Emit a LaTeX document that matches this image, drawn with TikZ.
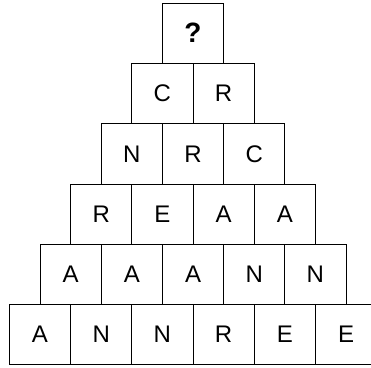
\documentclass[tikz,border=0pt]{standalone}
\usepackage{fontspec}
\setmainfont{Liberation Sans}

\begin{document}
\begin{tikzpicture}[x=1pt, y=1pt,
		cell/.style={draw, line width=0.9pt, minimum width=61.2pt, minimum height=60.3pt, inner sep=0pt, font=\fontsize{24}{28}\selectfont}]
	% Bildbereich
	\useasboundingbox (0,0) rectangle (371,-367);
	% Spitze
	\node[cell, font=\fontsize{28}{32}\selectfont\bfseries] (c-1-1) at (193,-33.2) {?};
	% Reihen darunter
	\foreach \r/\word in {2/{C,R},3/{N,R,C},4/{R,E,A,A},5/{A,A,A,N,N},6/{A,N,N,R,E,E}}
		\foreach \l [count=\i] in \word
			\node[cell] (c-\r-\i) at ({193+(\i-(\r+1)/2)*61.2}, {-33.2-(\r-1)*60.3}) {\l};
\end{tikzpicture}
\end{document}
